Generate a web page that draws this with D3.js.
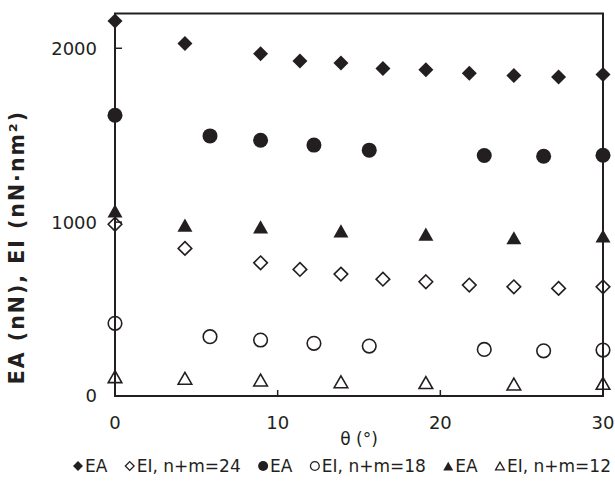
<!DOCTYPE html>
<html>
<head>
<meta charset="utf-8">
<script src="https://cdn.jsdelivr.net/npm/d3@7"></script>
<style>
  html, body { margin: 0; padding: 0; background: #fff; }
  svg { display: block; }
  text { font-family: "DejaVu Sans", Verdana, sans-serif; fill: #231f20; }
</style>
</head>
<body>
<svg id="chart" width="615" height="482"></svg>
<script>
// ---- data ----
const theta24 = [0, 4.30, 8.95, 11.37, 13.89, 16.47, 19.11, 21.78, 24.52, 27.27, 30];
const EA24 = [2157, 2027, 1969, 1927, 1916, 1883, 1876, 1856, 1843, 1835, 1849];
const EI24 = [988, 849, 766, 728, 701, 672, 657, 638, 628, 619, 628];

const theta18 = [0, 5.84, 8.95, 12.23, 15.63, 22.70, 26.35, 30];
const EA18 = [1615, 1496, 1471, 1443, 1414, 1383, 1379, 1385];
const EI18 = [418, 341, 322, 303, 287, 268, 260, 264];

const theta12 = [0, 4.30, 8.95, 13.89, 19.11, 24.52, 30];
const EA12 = [1065, 983, 973, 950, 931, 910, 920];
const EI12 = [111, 102, 92, 82, 77, 69, 73];

const xTicks = [0, 10, 20, 30];
const yTicks = [0, 1000, 2000];
const xLabel = "θ (°)";
const yLabel = "EA (nN), EI (nN·nm²)";
const legendItems = [
  { shape: "diamond", filled: true, label: "EA" },
  { shape: "diamond", filled: false, label: "EI, n+m=24" },
  { shape: "circle", filled: true, label: "EA" },
  { shape: "circle", filled: false, label: "EI, n+m=18" },
  { shape: "triangle", filled: true, label: "EA" },
  { shape: "triangle", filled: false, label: "EI, n+m=12" }
];

// ---- layout ----
const ink = "#231f20";
const svg = d3.select("#chart");
const margin = { left: 115, right: 12, top: 13.5, bottom: 86 };
const W = 615, H = 482;
const x = d3.scaleLinear().domain([0, 30]).range([margin.left, W - margin.right]);
const y = d3.scaleLinear().domain([0, 2200]).range([H - margin.bottom, margin.top]);

function markerPath(shape, r) {
  if (shape === "diamond") {
    return `M0,${-r}L${r},0L0,${r}L${-r},0Z`;
  } else if (shape === "circle") {
    return `M${r},0A${r},${r} 0 1,1 ${-r},0A${r},${r} 0 1,1 ${r},0Z`;
  } else {
    const h = r * 1.75;
    return `M0,${-h / 2}L${r},${h / 2}L${-r},${h / 2}Z`;
  }
}

// ---- axes / frame ----
const g = svg.append("g");
const x0 = x.range()[0], x1 = x.range()[1];
const y0 = y.range()[0], y1 = y.range()[1];

g.selectAll(".ytick").data(yTicks.filter(d => d > 0 && d < 2200)).enter()
  .append("line")
  .attr("x1", x0).attr("x2", x0 + 7)
  .attr("y1", d => y(d)).attr("y2", d => y(d))
  .attr("stroke", ink).attr("stroke-width", 1.5);
g.selectAll(".xtick").data(xTicks.filter(d => d > 0 && d < 30)).enter()
  .append("line")
  .attr("x1", d => x(d)).attr("x2", d => x(d))
  .attr("y1", y0).attr("y2", y0 - 6)
  .attr("stroke", ink).attr("stroke-width", 1.5);

g.append("rect")
  .attr("x", x0).attr("y", y1)
  .attr("width", x1 - x0).attr("height", y0 - y1)
  .attr("fill", "none").attr("stroke", ink).attr("stroke-width", 2);

g.selectAll(".ylab").data(yTicks).enter()
  .append("text")
  .attr("x", 97).attr("y", d => y(d))
  .attr("dy", "0.36em")
  .attr("text-anchor", "end")
  .attr("font-size", 18)
  .text(d => d);
g.selectAll(".xlab").data(xTicks).enter()
  .append("text")
  .attr("x", d => x(d)).attr("y", 429)
  .attr("text-anchor", "middle")
  .attr("font-size", 18)
  .text(d => d);

g.append("text")
  .attr("x", (x0 + x1) / 2).attr("y", 445)
  .attr("text-anchor", "middle")
  .attr("font-size", 17)
  .text(xLabel);
g.append("text")
  .attr("transform", `translate(24,${247}) rotate(-90)`)
  .attr("text-anchor", "middle")
  .attr("font-size", 20.5)
  .attr("letter-spacing", 2)
  .attr("font-weight", "bold")
  .text(yLabel);

// ---- series ----
const series = [
  { th: theta24, v: EA24, shape: "diamond", filled: true },
  { th: theta24, v: EI24, shape: "diamond", filled: false },
  { th: theta18, v: EA18, shape: "circle", filled: true },
  { th: theta18, v: EI18, shape: "circle", filled: false },
  { th: theta12, v: EA12, shape: "triangle", filled: true },
  { th: theta12, v: EI12, shape: "triangle", filled: false }
];
series.forEach(s => {
  const pts = s.th.map((t, i) => ({ t, v: s.v[i] }));
  const r = s.filled ? 7.5 : 6.8;
  g.append("g").selectAll("path").data(pts).enter()
    .append("path")
    .attr("transform", d => `translate(${x(d.t)},${y(d.v)})`)
    .attr("d", markerPath(s.shape, r))
    .attr("fill", s.filled ? ink : "none")
    .attr("stroke", ink)
    .attr("stroke-width", s.filled ? 0 : 1.6);
});

// ---- legend ----
const lg = svg.append("g");
const ly = 466;
const startX = 78, endX = 611, markToText = 7;
const texts = legendItems.map(it => lg.append("text")
  .attr("y", ly).attr("dy", "0.36em")
  .attr("font-size", 17)
  .text(it.label));
const widths = texts.map(t => t.node().getComputedTextLength());
const gap = (endX - startX - d3.sum(widths) - legendItems.length * markToText) / (legendItems.length - 1);
let cx = startX;
legendItems.forEach((it, i) => {
  const r = 5;
  lg.append("path")
    .attr("transform", `translate(${cx},${ly})`)
    .attr("d", markerPath(it.shape, it.filled ? r : r - 0.6))
    .attr("fill", it.filled ? ink : "none")
    .attr("stroke", ink)
    .attr("stroke-width", it.filled ? 0 : 1.3);
  texts[i].attr("x", cx + markToText);
  cx = cx + markToText + widths[i] + gap;
});
</script>
</body>
</html>
